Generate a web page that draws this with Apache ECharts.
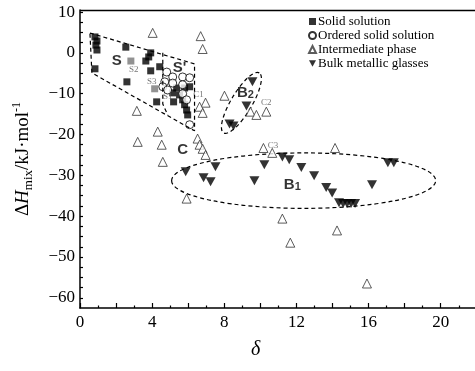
<!DOCTYPE html>
<html><head><meta charset="utf-8">
<script src="https://cdn.jsdelivr.net/npm/echarts@6/dist/echarts.min.js"></script>
<style>html,body{margin:0;padding:0;background:#fff}#c{width:475px;height:371px}</style>
</head><body><div id="c"></div>
<script>
// ---- data (δ, ΔHmix) ----
const solidSolution = [[0.83,3.9],[0.94,2.9],[0.88,1.9],[0.94,0.7],[0.83,-3.9],[2.54,1.4],[2.6,-7.1],
  [3.65,-2.0],[3.81,-1.0],[3.92,0.0],[3.92,-4.4],[4.42,-3.4],[4.25,-12.0],[5.19,-12.0],[5.36,-8.6],
  [5.80,-8.6],[6.08,-8.3],[5.14,-9.8],[5.52,-10.3],[5.69,-11.5],[5.80,-12.7],[5.91,-14.0],[5.97,-15.2]];
const labeledSolid = [[2.82,-2.0],[4.14,-8.8]];
const orderedSolid = [[4.81,-4.7],[5.14,-5.9],[5.69,-5.9],[6.08,-6.1],[4.70,-7.1],[4.59,-8.3],[5.14,-7.4],
  [5.69,-7.8],[4.86,-9.1],[5.69,-10.0],[5.91,-11.5],[6.08,-17.6]];
const intermediate = [[4.03,4.9],[6.69,4.1],[6.80,0.95],[3.15,-14.2],[6.96,-12.2],[6.63,-13.2],[6.80,-14.7],
  [4.31,-19.3],[3.2,-21.8],[4.53,-22.5],[4.59,-26.7],[6.52,-21.0],[6.63,-22.5],[6.80,-23.5],[6.96,-25.0],
  [5.91,-35.7],[8.01,-10.5],[9.45,-14.4],[9.78,-15.2],[10.33,-14.4],[10.17,-23.3],[10.66,-24.5],
  [14.14,-23.3],[11.22,-40.6],[11.66,-46.5],[14.25,-43.5],[15.91,-56.5]];
const bulkGlasses = [[5.86,-29.1],[6.85,-30.6],[7.24,-31.6],[7.51,-27.9],[9.67,-31.3],[10.22,-27.4],
  [11.22,-25.5],[11.60,-26.2],[12.27,-28.1],[12.98,-30.1],[13.65,-33.0],[13.98,-34.3],[14.36,-36.7],
  [14.59,-36.9],[14.81,-36.9],[15.03,-36.9],[15.25,-36.9],[16.19,-32.3],[17.07,-26.9],[17.40,-26.9],
  [9.56,-7.1],[9.23,-13.0],[8.29,-17.4],[8.51,-17.9]];
// region outlines
const regionS = [[0.55,4.87],[6.35,-2.71],[6.35,-19.1],[0.66,-4.91],[0.55,4.87]];
const regionS2 = [[4.59,0.0],[4.59,-12.5],[4.86,-15.2]];
// ellipses: major-axis end points and minor/major ratio
const ellipses = [[5.08,-31.3,19.72,-31.3,0.21],[9.94,-4.9,7.96,-19.6,0.30]];
// frame top edge
const frameTop = [[0,10.4],[21.9,10.4]];
// region labels
const boldLabels = [[2.04,-2.0,'S'],[5.52,-3.7,"S'"],[5.69,-23.7,'C'],[9.17,-9.8,'B2'],[11.77,-32.3,'B1']];
const smallLabels = [[2.98,-4.2,'S2'],[3.98,-7.1,'S3'],[4.86,-10.8,'S1'],[6.57,-10.3,'C1'],[10.33,-12.2,'C2'],[10.7,-22.8,'C3']];
// ticks
const xLabels = [0,4,8,12,16,20];
const yLabels = [-60,-50,-40,-30,-20,-10,0,10];

const serif = 'Liberation Serif';
const xMajor = [], xMinor = [], yTicks = [];
for (let v = 0; v <= 20; v += 2) xMajor.push(v);
for (let v = 1; v <= 21; v += 2) xMinor.push(v);
for (let v = -60; v <= 10; v += 2.5) yTicks.push(v);

const downTri = 'path://M0,0L10,0L5,9Z';
const chart = echarts.init(document.getElementById('c'));
const common = {min:0, max:21.9, type:'value', splitLine:{show:false}};
const gridRect = {left:80, right:-1, top:10, bottom:63};
chart.setOption({
  animation:false,
  grid:[Object.assign({}, gridRect), Object.assign({}, gridRect)],
  legend:{
    orient:'vertical', left:303, top:10, itemGap:1, itemWidth:7, itemHeight:7,
    data:['Solid solution','Ordered solid solution','Intermediate phase','Bulk metallic glasses'],
    textStyle:{fontFamily:serif, fontSize:13, color:'#000', padding:[0,0,0,-3]}
  },
  xAxis:[
    Object.assign({}, common, {gridIndex:0, position:'bottom',
      axisLine:{onZero:false, lineStyle:{color:'#000', width:1.5}},
      axisTick:{inside:true, length:5, customValues:xMajor, lineStyle:{color:'#000', width:1.2}},
      axisLabel:{customValues:xLabels, fontFamily:serif, fontSize:17, color:'#000', margin:6}}),
    Object.assign({}, common, {gridIndex:1, position:'bottom', axisLine:{show:false, onZero:false},
      axisTick:{inside:true, length:2.5, customValues:xMinor, lineStyle:{color:'#000', width:1.2}},
      axisLabel:{show:false}})
  ],
  yAxis:[{gridIndex:0, type:'value', min:-62.5, max:10.5, splitLine:{show:false},
    axisLine:{show:true, onZero:false, lineStyle:{color:'#000', width:1.5}},
    axisTick:{show:true, inside:true, length:3, customValues:yTicks, lineStyle:{color:'#000', width:1.2}},
    axisLabel:{customValues:yLabels, fontFamily:serif, fontSize:17, color:'#000', margin:5,
      formatter:v => String(v).replace('-', '\u2212')},
    name:'{a|\u0394}{h|H}{m|mix}{a|/kJ\u00b7mol}{p|-1}', nameLocation:'middle', nameRotate:90, nameGap:45,
    nameTextStyle:{rich:{
      a:{fontFamily:serif, fontSize:19, color:'#000', lineHeight:24},
      h:{fontFamily:serif, fontSize:19, fontStyle:'italic', color:'#000', lineHeight:24},
      m:{fontFamily:serif, fontSize:13, color:'#000', verticalAlign:'bottom', lineHeight:24},
      p:{fontFamily:serif, fontSize:12, color:'#000', verticalAlign:'top', lineHeight:24}
    }}
  },
  {gridIndex:1, type:'value', min:-62.5, max:10.5, show:false}],
  graphic:[{type:'text', left:251, top:340, style:{text:'\u03b4', font:'italic 20px "Liberation Serif"', fill:'#000'}}],
  series:[
    {name:'frameTop', type:'line', data:frameTop, symbol:'none', silent:true, clip:false, z:10,
      lineStyle:{color:'#000', width:1.5}},
    {name:'regionS', type:'line', data:regionS, symbol:'none', silent:true,
      lineStyle:{color:'#000', width:1.2, type:[4,3]}},
    {name:'regionS2', type:'line', data:regionS2, symbol:'none', silent:true,
      lineStyle:{color:'#000', width:1.2, type:[4,3]}},
    {name:'ellipses', type:'custom', data:ellipses, silent:true,
      renderItem:(params, api) => {
        const p1 = api.coord([api.value(0), api.value(1)]);
        const p2 = api.coord([api.value(2), api.value(3)]);
        const dx = p2[0]-p1[0], dy = p2[1]-p1[1];
        const a = Math.sqrt(dx*dx+dy*dy)/2, b = a*api.value(4);
        const deg = Math.atan2(dy, dx)*180/Math.PI;
        const d = `M${p1[0]} ${p1[1]} A${a} ${b} ${deg} 1 0 ${p2[0]} ${p2[1]} A${a} ${b} ${deg} 1 0 ${p1[0]} ${p1[1]}`;
        return {type:'path', shape:{pathData:d}, style:{fill:null, stroke:'#000', lineWidth:1.2, lineDash:[4,3]}};
      }},
    {name:'Solid solution', type:'scatter', data:solidSolution, symbol:'rect', symbolSize:7,
      itemStyle:{color:'#000'}},
    {name:'labeled', type:'scatter', data:labeledSolid, symbol:'rect', symbolSize:7, itemStyle:{color:'#777'}},
    {name:'Ordered solid solution', type:'scatter', data:orderedSolid, symbol:'circle', symbolSize:8,
      itemStyle:{color:'#fff', borderColor:'#000', borderWidth:1}},
    {name:'Intermediate phase', type:'scatter', data:intermediate, symbol:'triangle', symbolSize:9,
      itemStyle:{color:'#fff', borderColor:'#333', borderWidth:1}},
    {name:'Bulk metallic glasses', type:'scatter', data:bulkGlasses, symbol:downTri, symbolSize:[10,9],
      itemStyle:{color:'#000'}},
    {name:'boldLabels', type:'scatter', data:boldLabels, symbolSize:0, silent:true,
      label:{show:true, position:'inside', color:'#000',
        formatter:p => { const t = p.value[2]; return t.length===2 && t[0]==='B' ? `{b|B}{s|${t[1]}}` : `{b|${t}}`; },
        rich:{b:{fontFamily:'Liberation Sans', fontWeight:'bold', fontSize:15, color:'#000'},
              s:{fontFamily:'Liberation Sans', fontWeight:'bold', fontSize:11, color:'#000', verticalAlign:'bottom', lineHeight:16}}}},
    {name:'smallLabels', type:'scatter', data:smallLabels, symbolSize:0, silent:true,
      label:{show:true, position:'inside', formatter:p => p.value[2], fontFamily:serif, fontSize:9, color:'#555'}}
  ]
});
</script></body></html>
